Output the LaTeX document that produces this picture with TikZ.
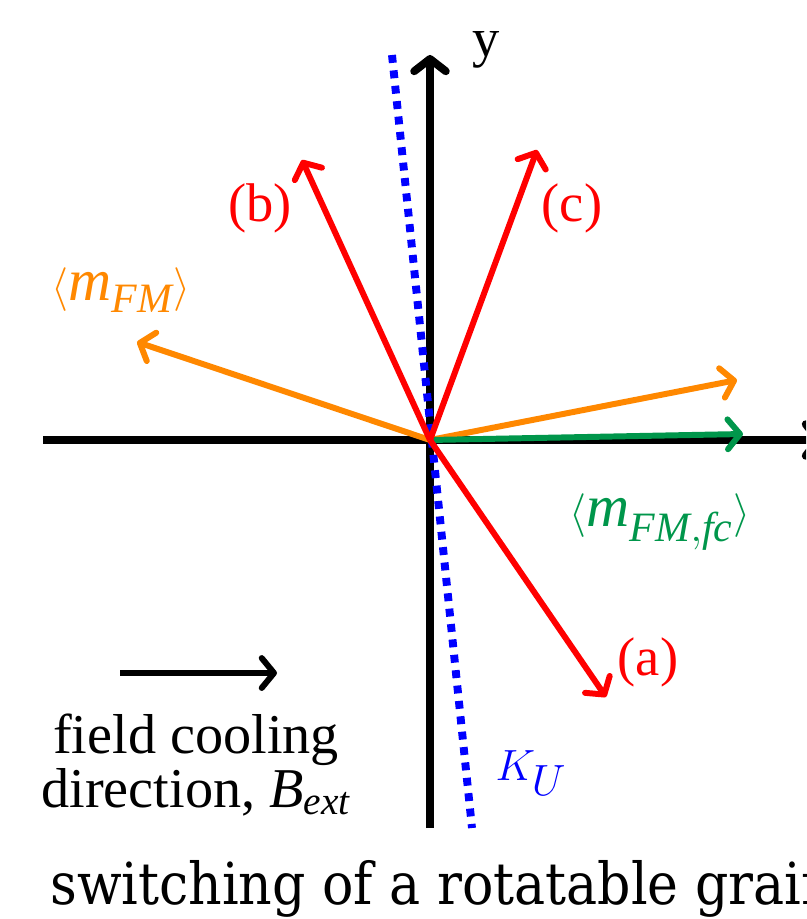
\documentclass[tikz,border=0pt]{standalone}
\usepackage{amsmath}
\usepackage{fontspec}
\setmainfont{Liberation Serif}
\newfontfamily\captionfont{DejaVu Serif Condensed}
\usepackage{tikz}
\usetikzlibrary{arrows.meta}
\definecolor{momentred}{RGB}{255,0,0}
\definecolor{fmorange}{RGB}{255,136,0}
\definecolor{fcgreen}{RGB}{0,150,75}
\definecolor{anisoblue}{RGB}{0,0,255}

\tikzset{
  vec/.style={line width=3.4pt,-{Straight Barb[length=7pt,width=17pt,round]}},
  axis/.style={line width=4.5pt,-{Straight Barb[length=7pt,width=18pt,round]}},
  lbl/.style={font=\fontsize{31}{32}\selectfont,inner sep=0pt},
  mlbl/.style={font=\fontsize{34}{36}\selectfont,inner sep=0pt}
}

\begin{document}
\begin{tikzpicture}[x=0.02cm,y=-0.02cm]
    \useasboundingbox (0,0) rectangle (806,919);
    \clip (0,0) rectangle (806,919);
    \coordinate (O) at (430,440);
    % axes
    \coordinate (xl) at (43,440);
    \coordinate (xr) at (822,440);
    \coordinate (yb) at (430,828);
    \coordinate (yt) at (430,55);
    \draw[axis] (xl) -- (xr);
    \draw[axis] (yb) -- (yt);
    \node[lbl] (ylab) at (486,50) {y};
    % easy axis
    \coordinate (ku1) at (392,55);
    \coordinate (ku2) at (472,828);
    \draw[anisoblue,line width=4.5pt,dash pattern=on 4.5pt off 4.3pt] (ku1) -- (ku2);
    \node[mlbl,text=anisoblue] (kulab) at (531,773) {$K_{U}$};
    % moments
    \coordinate (ta) at (606,697);
    \coordinate (tb) at (302,160);
    \coordinate (tc) at (537,150);
    \coordinate (tfl) at (137,342);
    \coordinate (tfr) at (737,380);
    \coordinate (tfc) at (743,434);
    \draw[vec,fmorange] (O) -- (tfl);
    \draw[vec,fmorange] (O) -- (tfr);
    \draw[vec,fcgreen] (O) -- (tfc);
    \draw[vec,momentred] (O) -- (ta);
    \draw[vec,momentred] (O) -- (tb);
    \draw[vec,momentred] (O) -- (tc);
    \node[lbl,text=momentred] (la) at (648,662) {(a)};
    \node[lbl,text=momentred] (lb) at (260,208) {(b)};
    \node[lbl,text=momentred] (lc) at (572,208) {(c)};
    \node[mlbl,text=fmorange] (lfm) at (121,290) {$\langle \textit{m}_{\textit{FM}}\rangle$};
    \node[mlbl,text=fcgreen] (lfc) at (660,522) {$\langle \textit{m}_{\textit{FM},\textit{fc}}\rangle$};
    % field cooling
    \coordinate (fc1) at (120,673);
    \coordinate (fc2) at (277,673);
    \draw[vec,black] (fc1) -- (fc2);
    \node[font=\fontsize{32}{31}\selectfont,inner sep=0pt,align=center] (fclab) at (196,765) {field cooling\\direction, $\textit{B}_{\textit{ext}}$};
    \node[font=\captionfont\fontsize{33}{34}\selectfont,anchor=base west,inner sep=0pt] (cap) at (50,904) {switching of a rotatable grain};
\end{tikzpicture}
\end{document}
